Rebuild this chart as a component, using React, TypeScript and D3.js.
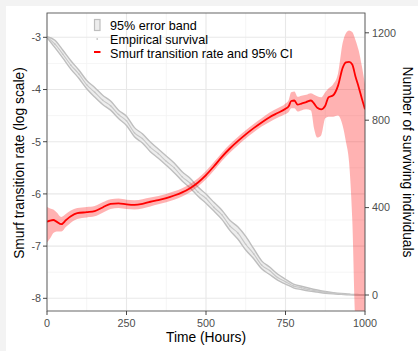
import React from 'react'
import * as d3 from 'd3'

// survival curve (number of surviving individuals), every 25 hours
const survTime = [0, 25, 50, 75, 100, 125, 150, 175, 200, 225, 250, 275, 300, 325, 350, 375, 400, 425, 450, 475, 500,
  525, 550, 575, 600, 625, 650, 675, 700, 725, 750, 775, 800, 825, 850, 875, 900, 925, 950, 975, 1000]
const survEmp = [1180, 1148, 1102, 1052, 1012, 962, 928, 892, 866, 826, 797, 742, 716, 676, 647, 612, 582, 541, 512, 471, 442,
  401, 367, 316, 284, 232, 188, 137, 112, 80, 61, 41, 33, 24, 18, 12, 8, 5, 3, 1, 0]
const survLow = [1178, 1132, 1084, 1034, 992, 944, 906, 872, 846, 808, 776, 724, 696, 656, 626, 594, 560, 522, 490, 452, 420,
  384, 346, 296, 256, 206, 166, 120, 94, 68, 50, 33, 25, 18, 13, 8, 5, 3, 1, 0, 0]
const survHigh = [1182, 1166, 1120, 1072, 1030, 982, 950, 914, 888, 846, 818, 766, 738, 700, 668, 636, 604, 564, 534, 494, 462,
  424, 388, 342, 312, 268, 212, 156, 128, 96, 72, 50, 40, 31, 23, 16, 11, 7, 4, 2, 0]

// smurf transition rate (log scale) with 95% CI
const rateTime = [0, 10, 20, 30, 45, 60, 75, 95, 125, 150, 175, 200, 225, 250, 275, 300, 325, 350, 375, 400, 425, 450, 475,
  500, 525, 550, 575, 600, 625, 650, 675, 700, 725, 750, 760, 768, 778, 788, 800, 815, 830, 840, 850, 862, 875, 885, 900,
  915, 930, 940, 950, 960, 970, 980, 990, 1000]
const rateEst = [-6.53, -6.51, -6.5, -6.53, -6.58, -6.5, -6.43, -6.37, -6.35, -6.33, -6.26, -6.19, -6.18, -6.2, -6.21, -6.19,
  -6.15, -6.12, -6.08, -6.03, -5.97, -5.89, -5.78, -5.64, -5.47, -5.29, -5.13, -4.99, -4.86, -4.74, -4.63, -4.53, -4.45,
  -4.37, -4.32, -4.22, -4.21, -4.29, -4.27, -4.24, -4.21, -4.27, -4.35, -4.38, -4.31, -4.15, -4.11, -3.93, -3.58, -3.48,
  -3.47, -3.52, -3.75, -3.95, -4.17, -4.38]
const rateLow = [-6.93, -6.85, -6.75, -6.72, -6.72, -6.63, -6.55, -6.48, -6.45, -6.43, -6.36, -6.29, -6.27, -6.29, -6.3, -6.28,
  -6.24, -6.2, -6.16, -6.11, -6.05, -5.97, -5.86, -5.72, -5.55, -5.37, -5.21, -5.07, -4.94, -4.82, -4.71, -4.62, -4.54,
  -4.47, -4.43, -4.36, -4.36, -4.42, -4.4, -4.38, -4.4, -4.75, -4.92, -4.88, -4.55, -4.52, -4.52, -4.5, -4.7, -5.0, -5.4,
  -6.5, -8.4, -8.4, -8.4, -8.4]
const rateHigh = [-6.25, -6.28, -6.3, -6.35, -6.44, -6.38, -6.32, -6.27, -6.25, -6.23, -6.16, -6.1, -6.09, -6.11, -6.12, -6.1,
  -6.07, -6.04, -6.0, -5.95, -5.89, -5.81, -5.7, -5.56, -5.39, -5.21, -5.05, -4.91, -4.78, -4.66, -4.55, -4.44, -4.36,
  -4.27, -4.2, -4.05, -4.04, -4.14, -4.12, -4.1, -4.07, -4.1, -4.13, -4.15, -4.05, -3.98, -3.9, -3.7, -3.1, -2.92, -2.87,
  -2.9, -3.05, -3.25, -3.55, -3.9]

const xTicks = [0, 250, 500, 750, 1000]
const xMinor = [125, 375, 625, 875]
const yTicks = [-8, -7, -6, -5, -4, -3]
const yMinor = [-7.5, -6.5, -5.5, -4.5, -3.5]
const y2Ticks = [0, 400, 800, 1200]

const legendLabels = ['95% error band', 'Empirical survival', 'Smurf transition rate and 95% CI']

const W = 418
const H = 351
const left = 47
const right = 365
const top = 13
const bottom = 311
const font = 'Liberation Sans, Arial, Helvetica, sans-serif'

export default function App() {
  const x = d3.scaleLinear().domain([0, 1000]).range([left, right])
  const y = d3.scaleLinear().domain([-8.243, -2.534]).range([bottom, top])
  const y2 = d3.scaleLinear().domain([0, 1200]).range([295, 32.8])

  const survIdx = d3.range(survTime.length)
  const rateIdx = d3.range(rateTime.length)

  const survBand = d3.area<number>()
    .x(i => x(survTime[i]))
    .y0(i => y2(survLow[i]))
    .y1(i => y2(survHigh[i]))
    .curve(d3.curveMonotoneX)
  const survLo = d3.line<number>().x(i => x(survTime[i])).y(i => y2(survLow[i])).curve(d3.curveMonotoneX)
  const survHi = d3.line<number>().x(i => x(survTime[i])).y(i => y2(survHigh[i])).curve(d3.curveMonotoneX)
  const survLine = d3.line<number>().x(i => x(survTime[i])).y(i => y2(survEmp[i])).curve(d3.curveMonotoneX)

  const rateBand = d3.area<number>()
    .x(i => x(rateTime[i]))
    .y0(i => y(rateLow[i]))
    .y1(i => y(rateHigh[i]))
    .curve(d3.curveMonotoneX)
  const rateLine = d3.line<number>().x(i => x(rateTime[i])).y(i => y(rateEst[i])).curve(d3.curveMonotoneX)

  return (
    <svg width={W} height={H} style={{ position: 'fixed', left: 0, top: 0 }} fontFamily={font}>
      <defs>
        <clipPath id="panel">
          <rect x={left} y={top} width={right - left} height={bottom - top} />
        </clipPath>
      </defs>
      <rect width={W} height={H} fill="#f3f3f3" />
      <rect x={6} y={6} width={W - 6} height={H - 6} fill="#fff" />

      {/* grid */}
      {xMinor.map(t => <line key={'xm' + t} x1={x(t)} x2={x(t)} y1={top} y2={bottom} stroke="#f3f3f3" strokeWidth={0.8} />)}
      {yMinor.map(t => <line key={'ym' + t} x1={left} x2={right} y1={y(t)} y2={y(t)} stroke="#f3f3f3" strokeWidth={0.8} />)}
      {xTicks.map(t => <line key={'xg' + t} x1={x(t)} x2={x(t)} y1={top} y2={bottom} stroke="#e8e8e8" strokeWidth={1.1} />)}
      {yTicks.map(t => <line key={'yg' + t} x1={left} x2={right} y1={y(t)} y2={y(t)} stroke="#e8e8e8" strokeWidth={1.1} />)}

      <g clipPath="url(#panel)">
        <path d={survBand(survIdx) || ''} fill="#ededed" />
        <path d={survLo(survIdx) || ''} fill="none" stroke="#bebebe" strokeWidth={1.4} />
        <path d={survHi(survIdx) || ''} fill="none" stroke="#bebebe" strokeWidth={1.4} />
        <path d={survLine(survIdx) || ''} fill="none" stroke="#c6c6c6" strokeWidth={1.1} />
        {survIdx.map(i => (
          <circle key={'p' + i} cx={x(survTime[i])} cy={y2(survEmp[i])} r={0.8} fill="#c6c6c6" />
        ))}
        <path d={rateBand(rateIdx) || ''} fill="#ff0000" fillOpacity={0.3} />
        <path d={rateLine(rateIdx) || ''} fill="none" stroke="#ff0000" strokeWidth={1.8} />
      </g>

      <rect x={left} y={top} width={right - left} height={bottom - top} fill="none" stroke="#555" strokeWidth={0.9} />

      {/* axes */}
      {xTicks.map(t => (
        <g key={'xt' + t}>
          <line x1={x(t)} x2={x(t)} y1={bottom} y2={bottom + 4} stroke="#333" strokeWidth={0.9} />
          <text x={x(t)} y={326.5} textAnchor="middle" fontSize={10.8} fill="#4d4d4d">{t}</text>
        </g>
      ))}
      {yTicks.map(t => (
        <g key={'yt' + t}>
          <line x1={left - 4} x2={left} y1={y(t)} y2={y(t)} stroke="#333" strokeWidth={0.9} />
          <text x={left - 6} y={y(t)} dy="0.35em" textAnchor="end" fontSize={10.8} fill="#4d4d4d">{t}</text>
        </g>
      ))}
      {y2Ticks.map(t => (
        <g key={'y2t' + t}>
          <line x1={right} x2={right + 4} y1={y2(t)} y2={y2(t)} stroke="#333" strokeWidth={0.9} />
          <text x={right + 7} y={y2(t)} dy="0.35em" textAnchor="start" fontSize={10.8} fill="#4d4d4d">{t}</text>
        </g>
      ))}

      <text x={(left + right) / 2} y={341.5} textAnchor="middle" fontSize={13.8} fill="#000">Time (Hours)</text>
      <text transform={`translate(24,${(top + bottom) / 2 + 1}) rotate(-90)`} textAnchor="middle" fontSize={13.8} fill="#000">
        Smurf transition rate (log scale)
      </text>
      <text transform={`translate(403,${(top + bottom) / 2}) rotate(90)`} textAnchor="middle" fontSize={13.8} fill="#000">
        Number of surviving individuals
      </text>

      {/* legend */}
      <rect x={94.5} y={19.5} width={5.5} height={11} fill="#ededed" stroke="#bebebe" strokeWidth={1.2} />
      <circle cx={97.2} cy={39} r={0.9} fill="#c6c6c6" />
      <line x1={94} x2={100.5} y1={52} y2={52} stroke="#ff0000" strokeWidth={2} />
      {legendLabels.map((l, i) => (
        <text key={l} x={110} y={29.5 + i * 14} fontSize={12.6} fill="#000">{l}</text>
      ))}
    </svg>
  )
}
